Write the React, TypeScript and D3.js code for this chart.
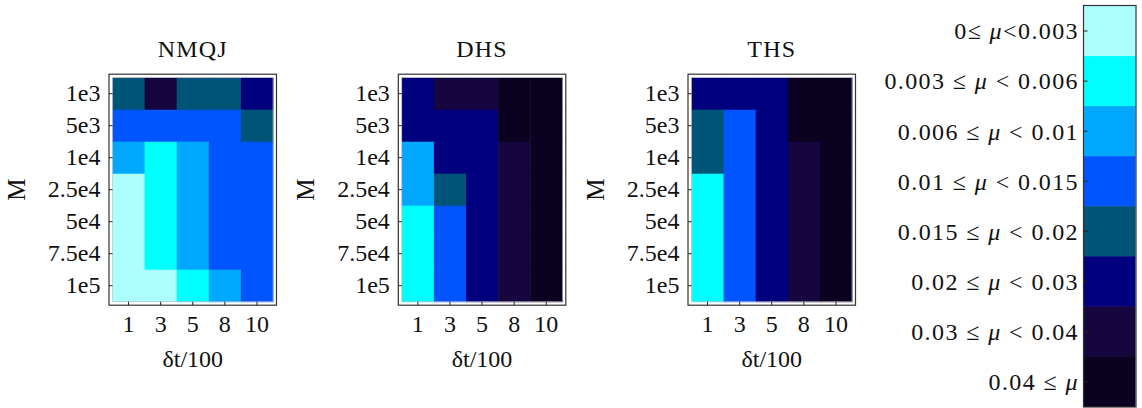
import React, { useEffect, useRef } from 'react';
import * as d3 from 'd3';

// rows = M, columns = dt/100 ; each cell holds the bin index of mu (0..7)
const dtLabels = ['1', '3', '5', '8', '10'];
const mLabels = ['1e3', '5e3', '1e4', '2.5e4', '5e4', '7.5e4', '1e5'];

const nmqj = [
  [4, 6, 4, 4, 5],
  [3, 3, 3, 3, 4],
  [2, 1, 2, 3, 3],
  [0, 1, 2, 3, 3],
  [0, 1, 2, 3, 3],
  [0, 1, 2, 3, 3],
  [0, 0, 1, 2, 3],
];

const dhs = [
  [5, 6, 6, 7, 7],
  [5, 5, 5, 7, 7],
  [2, 5, 5, 6, 7],
  [2, 4, 5, 6, 7],
  [1, 3, 5, 6, 7],
  [1, 3, 5, 6, 7],
  [1, 3, 5, 6, 7],
];

const ths = [
  [5, 5, 5, 7, 7],
  [4, 3, 5, 7, 7],
  [4, 3, 5, 6, 7],
  [1, 3, 5, 6, 7],
  [1, 3, 5, 6, 7],
  [1, 3, 5, 6, 7],
  [1, 3, 5, 6, 7],
];

const panelTitles = ['NMQJ', 'DHS', 'THS'];
const panelData = [nmqj, dhs, ths];

// legend bins: [left part, right part]
const binLabels = [
  ['0\u2264 ', '<0.003'],
  ['0.003 \u2264 ', ' < 0.006'],
  ['0.006 \u2264 ', ' < 0.01'],
  ['0.01 \u2264 ', ' < 0.015'],
  ['0.015 \u2264 ', ' < 0.02'],
  ['0.02 \u2264 ', ' < 0.03'],
  ['0.03 \u2264 ', ' < 0.04'],
  ['0.04 \u2264 ', ''],
];
const binColors = ['#acfefe', '#00ffff', '#00a8ff', '#0055ff', '#005478', '#00007f', '#150640', '#0a0220'];

const FONT = '"Liberation Serif", "DejaVu Serif", Times, serif';

const App = () => {
  const ref = useRef<SVGSVGElement>(null);

  useEffect(() => {
    const svg = d3.select(ref.current);
    svg.selectAll('*').remove();

    const color = d3.scaleOrdinal<number, string>().domain(d3.range(8)).range(binColors);
    const panelX = [112.5, 401.8, 691.5];
    const plotW = 160.5;
    const top = 77.7;
    const plotH = 224;
    const pad = 3.5;

    panelData.forEach((data, p) => {
      const g = svg.append('g').attr('transform', `translate(${panelX[p]},${top})`);
      const x = d3.scaleBand().domain(dtLabels).range([0, plotW]);
      const y = d3.scaleBand().domain(mLabels).range([0, plotH]);

      data.forEach((row, i) => {
        g.selectAll(null)
          .data(row)
          .enter()
          .append('rect')
          .attr('x', (d, j) => x(dtLabels[j])!)
          .attr('y', y(mLabels[i])!)
          .attr('width', x.bandwidth() + 0.5)
          .attr('height', y.bandwidth() + 0.5)
          .attr('fill', d => color(d));
      });

      g.append('rect')
        .attr('x', 0).attr('y', 0)
        .attr('width', plotW).attr('height', plotH)
        .attr('fill', 'none').attr('stroke', '#bbb').attr('stroke-width', 0.6);

      g.append('rect')
        .attr('x', -pad).attr('y', -pad)
        .attr('width', plotW + 2 * pad).attr('height', plotH + 2 * pad)
        .attr('fill', 'none').attr('stroke', '#333').attr('stroke-width', 1.2);

      // ticks pointing inwards from the frame
      const ya = g.append('g').attr('transform', `translate(${-pad},0)`)
        .call(d3.axisLeft(y).tickSize(-pad).tickSizeOuter(0).tickPadding(pad + 5));
      ya.select('.domain').remove();
      ya.selectAll('line').attr('stroke', '#222');
      ya.selectAll('text').attr('font-family', FONT).attr('font-size', 24).attr('fill', '#111');

      const xa = g.append('g').attr('transform', `translate(0,${plotH + pad})`)
        .call(d3.axisBottom(x).tickSize(-pad).tickSizeOuter(0).tickPadding(pad + 6));
      xa.select('.domain').remove();
      xa.selectAll('line').attr('stroke', '#222');
      xa.selectAll('text').attr('font-family', FONT).attr('font-size', 24).attr('fill', '#111');

      g.append('text')
        .attr('x', plotW / 2).attr('y', -21)
        .attr('text-anchor', 'middle')
        .attr('font-family', FONT).attr('font-size', 24).attr('letter-spacing', 1.2).attr('fill', '#111')
        .text(panelTitles[p]);

      g.append('text')
        .attr('x', plotW / 2).attr('y', 289)
        .attr('text-anchor', 'middle')
        .attr('font-family', FONT).attr('font-size', 24).attr('fill', '#111')
        .text('\u03b4t/100');

      g.append('text')
        .attr('transform', `translate(-88,${plotH / 2}) rotate(-90)`)
        .attr('text-anchor', 'middle')
        .attr('font-family', FONT).attr('font-size', 25).attr('fill', '#111')
        .text('M');
    });

    // legend bar
    const lx = 1084;
    const lw = 51.5;
    const ly = d3.scaleBand<number>().domain(d3.range(8)).range([6, 406.5]);
    const lg = svg.append('g');
    lg.selectAll('rect.bin')
      .data(d3.range(8))
      .enter()
      .append('rect')
      .attr('class', 'bin')
      .attr('x', lx).attr('y', d => ly(d)!)
      .attr('width', lw).attr('height', ly.bandwidth() + 0.5)
      .attr('fill', d => color(d));
    lg.append('rect')
      .attr('x', lx - 0.5).attr('y', 5.5)
      .attr('width', lw + 1).attr('height', 401.5)
      .attr('fill', 'none').attr('stroke', '#333').attr('stroke-width', 1.2);

    const la = lg.append('g').attr('transform', `translate(${lx - 0.5},0)`)
      .call(d3.axisLeft(ly).tickSize(-4).tickSizeOuter(0).tickPadding(5).tickFormat(() => ''));
    la.select('.domain').remove();
    la.selectAll('line').attr('stroke', '#222');

    const labels = lg.selectAll('text.lab')
      .data(binLabels)
      .enter()
      .append('text')
      .attr('class', 'lab')
      .attr('x', 1079)
      .attr('y', (d, i) => ly(i)! + ly.bandwidth() / 2)
      .attr('dy', '0.35em')
      .attr('text-anchor', 'end')
      .attr('font-family', FONT).attr('font-size', 24).attr('letter-spacing', 1.4).attr('fill', '#111');
    labels.append('tspan').text(d => d[0]);
    labels.append('tspan').attr('font-style', 'italic').text('\u03bc');
    labels.append('tspan').text(d => d[1]);
  }, []);

  return (
    <svg
      ref={ref}
      width={1142}
      height={408}
      style={{ position: 'absolute', left: 0, top: 0, background: '#fff' }}
    />
  );
};

export default App;
